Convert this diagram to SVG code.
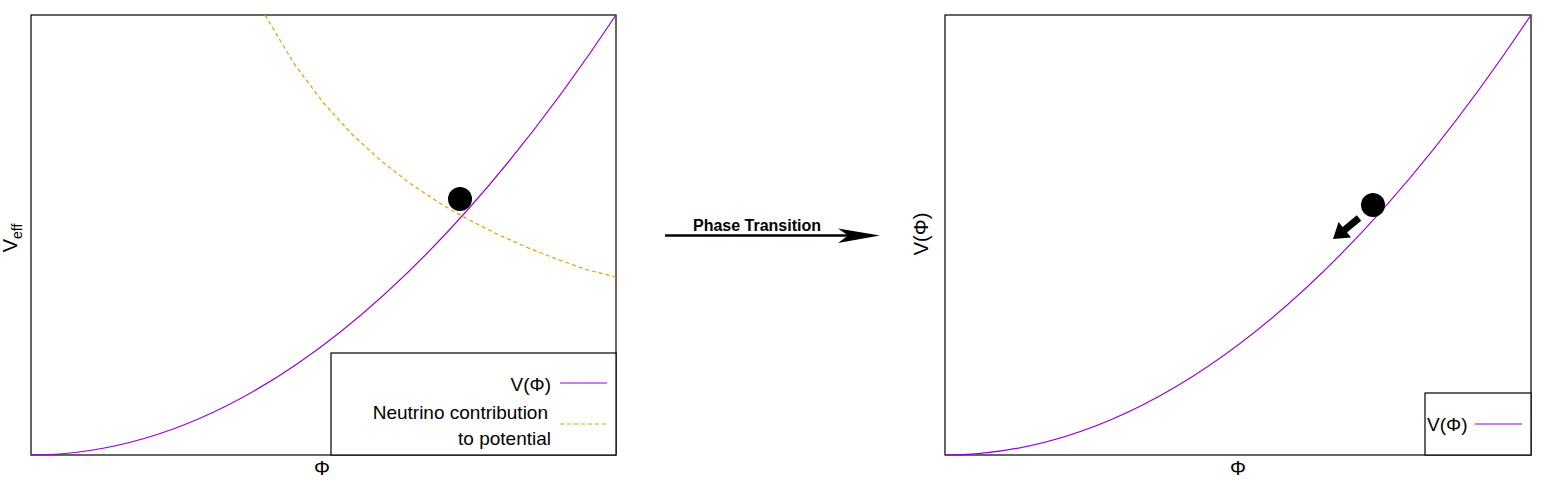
<svg xmlns="http://www.w3.org/2000/svg" width="1558" height="480" viewBox="0 0 1558 480">
<style>
.frame{fill:none;stroke:#000;stroke-width:1.2}
.pot{fill:none;stroke:#9400D3;stroke-width:1.2}
.nu{fill:none;stroke:#E69F00;stroke-width:1.2;stroke-dasharray:4,3}
.t{font-family:"Liberation Sans",Arial,sans-serif;font-size:19px;fill:#000}
.ax{font-family:"Liberation Sans",Arial,sans-serif;font-size:20px;fill:#000}
.b{font-family:"Liberation Sans",Arial,sans-serif;font-size:16px;font-weight:bold;fill:#000}
</style>
<rect width="1558" height="480" fill="#fff"/>
<g id="left-plot">
<rect class="frame" x="31" y="15" width="585" height="440"/>
<path class="nu" d="M265,15 L294.25,63.9 L323.5,103 L352.75,135 L382,161.7 L411.25,184.2 L440.5,203.6 L469.75,220.3 L499,235 L528.25,247.9 L557.5,259.4 L586.75,269.7 L616,277"/>
<path class="pot" d="M31,455 Q323.5,455 616,15"/>
<circle cx="460" cy="199" r="12" fill="#000"/>
<text class="ax" x="322" y="475" text-anchor="middle">Φ</text>
<text class="ax" transform="translate(17,238) rotate(-90)" text-anchor="middle">V<tspan font-size="14" dy="5">eff</tspan></text>
</g>
<g id="left-legend">
<rect x="331" y="353" width="285" height="102" fill="#fff" stroke="#000" stroke-width="1.2"/>
<text class="t" x="551" y="391" text-anchor="end">V(Φ)</text>
<line class="pot" x1="560" y1="383" x2="607" y2="383"/>
<text class="t" x="548" y="419" text-anchor="end">Neutrino contribution</text>
<text class="t" x="551" y="445" text-anchor="end">to potential</text>
<line class="nu" x1="560" y1="424" x2="607" y2="424" stroke-dasharray="5,3"/>
</g>
<g id="right-plot">
<rect class="frame" x="945" y="15" width="586" height="440"/>
<path class="pot" d="M945,455 Q1238,455 1531,15"/>
<circle cx="1373" cy="205" r="12" fill="#000"/>
<polygon points="1333,239 1351,237.5 1347,232.4 1361.2,220.7 1356.8,215.3 1342.6,227 1338.6,221.9" fill="#000"/>
<text class="ax" x="1238" y="475" text-anchor="middle">Φ</text>
<text class="ax" transform="translate(928,234) rotate(-90)" text-anchor="middle">V(Φ)</text>
</g>
<g id="right-legend">
<rect x="1425" y="393" width="106" height="62" fill="#fff" stroke="#000" stroke-width="1.2"/>
<text class="t" x="1427" y="431">V(Φ)</text>
<line class="pot" x1="1475" y1="424" x2="1522" y2="424"/>
</g>
<g id="connectors">
<line x1="665" y1="235.5" x2="850" y2="235.5" stroke="#000" stroke-width="2.5"/>
<polygon points="880,235.5 838,228.5 848,235.5 838,243" fill="#000"/>
<text class="b" x="757" y="231" text-anchor="middle">Phase Transition</text>
</g>
</svg>
